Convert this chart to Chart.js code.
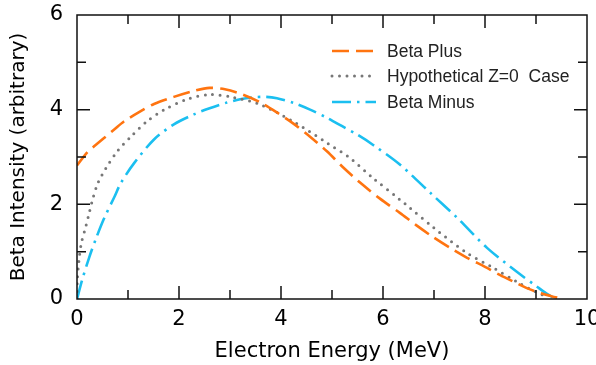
<!DOCTYPE html>
<html>
<head>
<meta charset="utf-8">
<script src="https://cdn.jsdelivr.net/npm/chart.js@4.4.1/dist/chart.umd.min.js"></script>
<style>
  html,body{margin:0;padding:0;background:#fff;}
  #wrap{width:596px;height:365px;}
</style>
</head>
<body>
<div id="wrap"><canvas id="c" width="596" height="365"></canvas></div>
<script>
// ---- data ----
const seriesLabels = ['Beta Plus', 'Hypothetical Z=0  Case', 'Beta Minus'];

const betaPlusX = [0, 0.2, 0.33, 0.53, 0.73, 0.92, 1.25, 1.51, 1.9, 2.27, 2.6, 2.9, 3.25, 3.6, 3.92, 4.25, 4.57, 4.9, 5.2, 5.55, 5.94, 6.33, 6.65, 6.98, 7.3, 7.65, 8.0, 8.29, 8.55, 8.82, 9.1, 9.3, 9.53];
const betaPlusY = [2.82, 3.1, 3.22, 3.4, 3.58, 3.75, 3.97, 4.12, 4.27, 4.39, 4.46, 4.43, 4.32, 4.15, 3.94, 3.7, 3.43, 3.12, 2.8, 2.46, 2.12, 1.82, 1.56, 1.31, 1.09, 0.87, 0.68, 0.51, 0.37, 0.23, 0.12, 0.06, 0.0];

const zeroX = [0, 0.006, 0.04, 0.085, 0.17, 0.24, 0.31, 0.41, 0.56, 0.79, 1.05, 1.38, 1.71, 2.16, 2.6, 3.06, 3.59, 4.24, 4.9, 5.35, 5.8, 6.33, 6.5, 7.0, 7.65, 8.16, 8.63, 8.9, 9.14, 9.2];
const zeroY = [0, 0.4, 0.83, 1.18, 1.52, 1.82, 2.12, 2.45, 2.75, 3.12, 3.42, 3.76, 4.0, 4.22, 4.32, 4.26, 4.11, 3.75, 3.3, 2.98, 2.56, 2.1, 1.95, 1.5, 0.97, 0.66, 0.36, 0.2, 0.08, 0.0];

const betaMinusX = [0, 0.1, 0.24, 0.37, 0.53, 0.73, 0.86, 1.12, 1.51, 1.9, 2.29, 2.6, 2.94, 3.2, 3.45, 3.7, 3.92, 4.25, 4.57, 4.9, 5.2, 5.5, 5.8, 6.33, 6.92, 7.45, 8.04, 8.63, 9.02, 9.2, 9.38];
const betaMinusY = [0, 0.4, 0.88, 1.27, 1.7, 2.15, 2.45, 2.87, 3.37, 3.69, 3.9, 4.03, 4.15, 4.22, 4.26, 4.27, 4.24, 4.14, 4.0, 3.83, 3.65, 3.47, 3.26, 2.84, 2.25, 1.72, 1.08, 0.57, 0.26, 0.12, 0.0];

const xTickLabels = ['0', '2', '4', '6', '8', '10'];
const yTickLabels = ['0', '2', '4', '6'];

const toPts = (xs, ys) => xs.map((x, i) => ({x, y: ys[i]}));

const tickFont = {family: '"DejaVu Sans"', size: 21};

const framePlugin = {
  id: 'frame',
  afterDatasetsDraw(chart) {
    const {ctx, chartArea: {left, right, top, bottom}, scales: {x, y}} = chart;
    ctx.save();
    ctx.strokeStyle = '#111';
    ctx.lineWidth = 1.5;
    ctx.strokeRect(left, top, right - left, bottom - top);
    ctx.beginPath();
    for (let v = 1; v < 10; v++) {
      const px = x.getPixelForValue(v);
      const len = v % 2 === 0 ? 13 : 9;
      ctx.moveTo(px, bottom); ctx.lineTo(px, bottom - len);
      ctx.moveTo(px, top); ctx.lineTo(px, top + len);
    }
    for (let v = 1; v < 6; v++) {
      const py = y.getPixelForValue(v);
      const len = v % 2 === 0 ? 13 : 9;
      ctx.moveTo(left, py); ctx.lineTo(left + len, py);
      ctx.moveTo(right, py); ctx.lineTo(right - len, py);
    }
    ctx.stroke();
    ctx.restore();
  }
};

const legendPlugin = {
  id: 'insideLegend',
  afterDraw(chart) {
    const {ctx} = chart;
    const rows = [51, 76, 102];
    ctx.save();
    chart.data.datasets.forEach((ds, i) => {
      const yy = rows[i];
      ctx.beginPath();
      ctx.strokeStyle = ds.borderColor;
      ctx.lineWidth = ds.borderWidth;
      ctx.lineCap = ds.borderCapStyle || 'butt';
      ctx.setLineDash(ds.borderDash || []);
      ctx.moveTo(332, yy); ctx.lineTo(376, yy);
      ctx.stroke();
      ctx.setLineDash([]);
      ctx.fillStyle = '#222';
      ctx.font = '17.5px "Liberation Sans", Arial, sans-serif';
      ctx.textBaseline = 'middle';
      ctx.textAlign = 'left';
      ctx.fillText(ds.label, 387, yy + 1);
    });
    ctx.restore();
  }
};

new Chart(document.getElementById('c'), {
  type: 'line',
  data: {
    datasets: [
      {
        label: seriesLabels[0],
        data: toPts(betaPlusX, betaPlusY),
        borderColor: '#ff7410',
        borderWidth: 2.6,
        borderDash: [17, 7],
        pointRadius: 0,
        tension: 0.3,
        fill: false
      },
      {
        label: seriesLabels[1],
        data: toPts(zeroX, zeroY),
        borderColor: '#777777',
        borderWidth: 3,
        borderDash: [0, 7.5],
        borderCapStyle: 'round',
        pointRadius: 0,
        tension: 0.3,
        fill: false
      },
      {
        label: seriesLabels[2],
        data: toPts(betaMinusX, betaMinusY),
        borderColor: '#1bbff0',
        borderWidth: 2.6,
        borderDash: [19, 6, 2.5, 6],
        pointRadius: 0,
        tension: 0.3,
        fill: false
      }
    ]
  },
  options: {
    responsive: false,
    animation: false,
    events: [],
    layout: {padding: {top: 15, right: 9, left: 0, bottom: 0}},
    plugins: {legend: {display: false}, tooltip: {enabled: false}},
    scales: {
      x: {
        type: 'linear',
        min: 0, max: 10,
        grid: {display: false, drawTicks: false},
        border: {display: false},
        ticks: {
          stepSize: 1,
          autoSkip: false,
          maxRotation: 0,
          padding: 8,
          color: '#000',
          font: tickFont,
          callback: (v) => (v % 2 === 0 ? xTickLabels[v / 2] : '')
        },
        title: {
          display: true,
          text: 'Electron Energy (MeV)',
          color: '#000',
          font: {family: '"DejaVu Sans"', size: 21},
          padding: {top: 0, bottom: 1}
        },
        afterFit(s) { s.height = 66; s.paddingLeft = 0; s.paddingRight = 0; }
      },
      y: {
        type: 'linear',
        min: 0, max: 6,
        grid: {display: false, drawTicks: false},
        border: {display: false},
        ticks: {
          stepSize: 1,
          autoSkip: false,
          padding: 14,
          color: '#000',
          font: tickFont,
          callback: (v) => (v % 2 === 0 ? yTickLabels[v / 2] : '')
        },
        title: {
          display: true,
          text: 'Beta Intensity (arbitrary)',
          color: '#000',
          font: {family: '"DejaVu Sans"', size: 20},
          padding: {top: 7, bottom: 0}
        },
        afterFit(s) { s.width = 77; s.paddingTop = 0; s.paddingBottom = 0; }
      }
    }
  },
  plugins: [framePlugin, legendPlugin]
});
</script>
</body>
</html>
